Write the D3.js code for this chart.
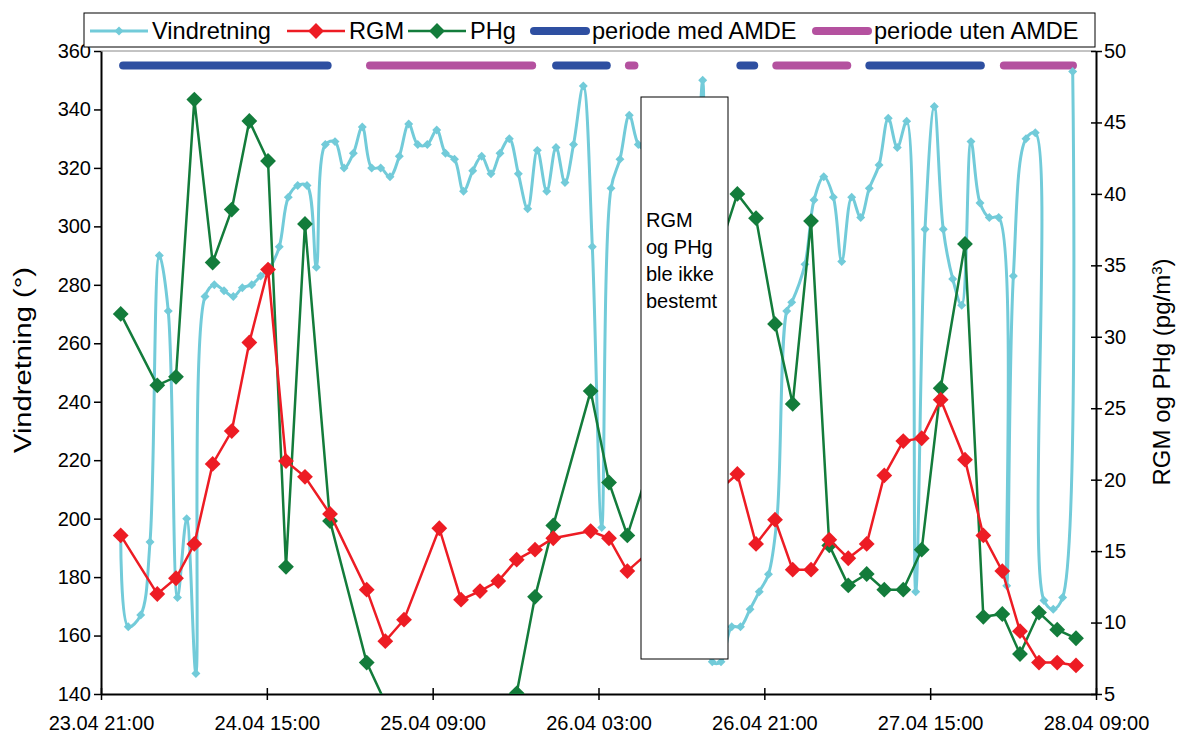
<!DOCTYPE html>
<html>
<head>
<meta charset="utf-8">
<script src="https://cdn.jsdelivr.net/npm/d3@7"></script>
<style>
  body { margin: 0; background: #fff; }
  svg text { font-family: Arial, "Liberation Sans", sans-serif; fill: #000; }
</style>
</head>
<body>
<div id="svg-container"></div>
<script>
// all times are hours after 23.04 21:00

// wind direction (left axis, degrees)
var windHours = [2.14, 2.96, 4.31, 5.32, 6.33, 7.30, 8.30, 9.30, 10.30, 11.29,
  12.30, 13.35, 14.36, 15.34, 16.36, 17.33, 18.34, 19.35, 20.33, 21.35,
  22.36, 23.37, 24.35, 25.40, 26.38, 27.39, 28.36, 29.38, 30.36, 31.37,
  32.38, 33.40, 34.38, 35.42, 36.44, 37.39, 38.37, 39.35, 40.35, 41.32,
  42.33, 43.31, 44.32, 45.30, 46.31, 47.36, 48.38, 49.39, 50.36, 51.29,
  52.35, 53.33, 54.35, 55.36, 56.33, 57.34, 58.32, 59.33, 60.33, 61.33,
  62.34, 63.33, 64.33, 65.31, 66.35, 67.30, 68.46, 69.41, 70.45, 71.45,
  72.45, 73.37, 74.43, 74.97, 76.41, 77.39, 78.45, 79.49, 80.40, 81.48,
  82.46, 83.39, 84.45, 85.45, 86.43, 87.45, 88.43, 89.44, 90.45, 91.42,
  92.45, 93.42, 94.43, 95.41, 96.42, 97.44, 98.31, 99.03, 100.40, 101.41,
  102.35, 103.36, 104.38, 105.47];
var windDeg = [194, 163, 167, 192, 290, 271, 173, 200, 147, 276,
  280, 278, 276, 279, 280, 283, 286, 293, 310, 314,
  314, 286, 328, 329, 320, 325, 334, 320, 320, 317,
  324, 335, 328, 328, 333, 325, 323, 312, 319, 324,
  318, 325, 330, 318, 306, 326, 312, 327, 315, 328,
  348, 293, 197, 313, 323, 338, 328, 325, 320, 318,
  322, 318, 300, 350, 151, 151, 163, 163, 169, 175,
  181, 200, 271, 274, 287, 309, 317, 310, 288, 310,
  303, 313, 321, 337, 327, 336, 175, 299, 341, 299,
  282, 273, 329, 308, 303, 303, 177, 283, 330, 332,
  172, 169, 173, 353];

// RGM and PHg samples (right axis, pg/m3)
var sampleHours = [2.14, 6.11, 8.14, 10.13, 12.12, 14.19, 16.10, 18.13, 20.08, 22.14,
  24.86, 28.84, 30.86, 32.89, 36.72, 39.08, 41.14, 43.12, 45.12, 47.11,
  49.09, 53.15, 55.14, 57.13, 69.07, 71.10, 73.16, 75.08, 77.07, 79.05,
  81.11, 83.11, 85.02, 87.08, 89.08, 91.14, 93.78, 95.77, 97.83, 99.75,
  101.81, 103.79, 105.83];
var rgm = [16.1, 12.0, 13.1, 15.5, 21.1, 23.4, 29.6, 34.7, 21.3, 20.2,
  17.6, 12.3, 8.7, 10.2, 16.6, 11.6, 12.2, 12.9, 14.4, 15.1,
  15.9, 16.4, 15.9, 13.6, 20.4, 15.5, 17.2, 13.7, 13.7, 15.8,
  14.5, 15.5, 20.3, 22.7, 22.9, 25.6, 21.4, 16.1, 13.6, 9.4,
  7.2, 7.2, 7.0];
var phg = [31.6, 26.6, 27.2, 46.6, 35.2, 38.9, 45.1, 42.3, 13.9, 37.9,
  17.1, 7.2, 4.4, 3.5, 4.3, 3.6, 3.2, 3.6, 5.05, 11.8,
  16.8, 26.2, 19.8, 16.1, 40.0, 38.3, 30.9, 25.3, 38.1, 15.4,
  12.6, 13.4, 12.3, 12.3, 15.1, 26.4, 36.5, 10.4, 10.6, 7.8,
  10.7, 9.5, 8.9];

// periods (start, end in hours), drawn at a fixed level on the left axis
var periodMed  = [[2.4, 24.6], [49.4, 54.9], [69.4, 70.9], [83.4, 95.5]];
var periodUten = [[29.2, 46.8], [57.3, 57.9], [73.3, 81.0], [98.0, 105.5]];
var periodLevel = 355;

// axis ticks
var xTickHours  = [0, 18, 36, 54, 72, 90, 108];
var xTickLabels = ["23.04 21:00", "24.04 15:00", "25.04 09:00", "26.04 03:00",
                   "26.04 21:00", "27.04 15:00", "28.04 09:00"];
var leftTicks  = [140, 160, 180, 200, 220, 240, 260, 280, 300, 320, 340, 360];
var rightTicks = [5, 10, 15, 20, 25, 30, 35, 40, 45, 50];

// colours
var cWind = "#72cbd9";
var cRgm  = "#ed1c24";
var cPhg  = "#137c3b";
var cMed  = "#2e4fa1";
var cUten = "#b4519f";

var svgWidth = 1179, svgHeight = 734;
var plotLeft = 101, plotRight = 1096, plotTop = 51, plotBottom = 694;

var xScale = d3.scaleLinear().domain([0, 108]).range([plotLeft, plotRight]);
var yLeft  = d3.scaleLinear().domain([140, 360]).range([plotBottom, plotTop]);
var yRight = d3.scaleLinear().domain([5, 50]).range([plotBottom, plotTop]);

var svg = d3.select("#svg-container")
  .append("svg")
  .attr("width", svgWidth)
  .attr("height", svgHeight);

svg.append("rect").attr("width", svgWidth).attr("height", svgHeight).attr("fill", "#fff");

svg.append("clipPath").attr("id", "plotClip")
  .append("rect")
  .attr("x", plotLeft).attr("y", plotTop)
  .attr("width", plotRight - plotLeft).attr("height", plotBottom - plotTop);

// plot frame top
svg.append("line")
  .attr("x1", plotLeft).attr("x2", plotRight).attr("y1", plotTop).attr("y2", plotTop)
  .attr("stroke", "#888").attr("stroke-width", 1);

// axes
var leftAxis = svg.append("g")
  .attr("transform", "translate(" + plotLeft + ",0)")
  .call(d3.axisLeft(yLeft).tickValues(leftTicks).tickSize(7).tickSizeOuter(0).tickPadding(3));

var rightAxis = svg.append("g")
  .attr("transform", "translate(" + plotRight + ",0)")
  .call(d3.axisRight(yRight).tickValues(rightTicks).tickSize(6).tickSizeOuter(0).tickPadding(2));
rightAxis.selectAll(".tick line").attr("x1", -5);

var bottomAxis = svg.append("g")
  .attr("transform", "translate(0," + plotBottom + ")")
  .call(d3.axisBottom(xScale).tickValues(xTickHours)
    .tickFormat(function(d, i) { return xTickLabels[i]; })
    .tickSize(6).tickSizeOuter(0).tickPadding(16));
bottomAxis.selectAll(".tick line").attr("y1", -6);

[leftAxis, rightAxis, bottomAxis].forEach(function(g) {
  g.select(".domain").attr("stroke", "#000").attr("stroke-width", 2);
  g.selectAll(".tick line").attr("stroke", "#000").attr("stroke-width", 1.5);
  g.selectAll(".tick text").attr("font-size", 20).attr("fill", "#000")
    .style("font-family", "Arial, 'Liberation Sans', sans-serif");
});

// axis titles (stretched along the axis like the original)
svg.append("text")
  .attr("transform", "translate(31,360) rotate(-90)")
  .attr("text-anchor", "middle")
  .attr("font-size", 23)
  .attr("textLength", 186)
  .attr("lengthAdjust", "spacingAndGlyphs")
  .text("Vindretning (°)");

var rTitle = svg.append("text")
  .attr("transform", "translate(1170,372) rotate(-90)")
  .attr("text-anchor", "middle")
  .attr("font-size", 24);
rTitle.append("tspan").text("RGM og PHg (pg/m");
rTitle.append("tspan").attr("font-size", 15).attr("baseline-shift", "super").text("3");
rTitle.append("tspan").text(")");

// series
var plot = svg.append("g").attr("clip-path", "url(#plotClip)");

var windData = windHours.map(function(h, i) { return [h, windDeg[i]]; });
var rgmData  = sampleHours.map(function(h, i) { return [h, rgm[i]]; });
var phgData  = sampleHours.map(function(h, i) { return [h, phg[i]]; });

// periods as thick rounded lines
function drawPeriods(list, colour) {
  plot.selectAll(null)
    .data(list)
    .enter()
    .append("line")
    .attr("x1", function(d) { return xScale(d[0]); })
    .attr("x2", function(d) { return xScale(d[1]); })
    .attr("y1", yLeft(periodLevel))
    .attr("y2", yLeft(periodLevel))
    .attr("stroke", colour)
    .attr("stroke-width", 8)
    .attr("stroke-linecap", "round");
}
drawPeriods(periodMed, cMed);
drawPeriods(periodUten, cUten);

var windLine = d3.line()
  .x(function(d) { return xScale(d[0]); })
  .y(function(d) { return yLeft(d[1]); })
  .curve(d3.curveCatmullRom.alpha(0.5));

var rightLine = d3.line()
  .x(function(d) { return xScale(d[0]); })
  .y(function(d) { return yRight(d[1]); });

var diamond = function(size) { return d3.symbol().type(d3.symbolSquare).size(size); };

function drawMarkers(data, yScale, colour, size, domain) {
  plot.selectAll(null)
    .data(data.filter(function(d) { return d[1] >= domain[0] && d[1] <= domain[1]; }))
    .enter()
    .append("path")
    .attr("d", diamond(size))
    .attr("transform", function(d) {
      return "translate(" + xScale(d[0]) + "," + yScale(d[1]) + ") rotate(45)";
    })
    .attr("fill", colour);
}

plot.append("path")
  .datum(windData)
  .attr("d", windLine)
  .attr("fill", "none")
  .attr("stroke", cWind)
  .attr("stroke-width", 3);
drawMarkers(windData, yLeft, cWind, 40, [140, 360]);

plot.append("path")
  .datum(phgData)
  .attr("d", rightLine)
  .attr("fill", "none")
  .attr("stroke", cPhg)
  .attr("stroke-width", 2.5);
drawMarkers(phgData, yRight, cPhg, 125, [5, 50]);

plot.append("path")
  .datum(rgmData)
  .attr("d", rightLine)
  .attr("fill", "none")
  .attr("stroke", cRgm)
  .attr("stroke-width", 2.5);
drawMarkers(rgmData, yRight, cRgm, 125, [5, 50]);

// note box where RGM and PHg were not measured
var note = svg.append("g");
note.append("rect")
  .attr("x", 641).attr("y", 97)
  .attr("width", 87).attr("height", 562)
  .attr("fill", "#fff").attr("stroke", "#000").attr("stroke-width", 1);
["RGM", "og PHg", "ble ikke", "bestemt"].forEach(function(t, i) {
  note.append("text")
    .attr("x", 646).attr("y", 227 + i * 27)
    .attr("font-size", 20)
    .text(t);
});

// legend
var legend = svg.append("g");
legend.append("rect")
  .attr("x", 84).attr("y", 13)
  .attr("width", 1011).attr("height", 34)
  .attr("fill", "#fff").attr("stroke", "#000").attr("stroke-width", 1);

var legendItems = [
  { name: "Vindretning",       colour: cWind, x: 90,  kind: "wind" },
  { name: "RGM",               colour: cRgm,  x: 287, kind: "big" },
  { name: "PHg",               colour: cPhg,  x: 408, kind: "big" },
  { name: "periode med AMDE",  colour: cMed,  x: 530, kind: "bar" },
  { name: "periode uten AMDE", colour: cUten, x: 812, kind: "bar" }
];
var ly = 31;
legendItems.forEach(function(it) {
  if (it.kind === "bar") {
    legend.append("line")
      .attr("x1", it.x + 4).attr("x2", it.x + 56)
      .attr("y1", ly).attr("y2", ly)
      .attr("stroke", it.colour).attr("stroke-width", 8).attr("stroke-linecap", "round");
  } else {
    legend.append("line")
      .attr("x1", it.x).attr("x2", it.x + 58)
      .attr("y1", ly).attr("y2", ly)
      .attr("stroke", it.colour).attr("stroke-width", it.kind === "wind" ? 3 : 2.5);
    legend.append("path")
      .attr("d", diamond(it.kind === "wind" ? 40 : 125))
      .attr("transform", "translate(" + (it.x + 29) + "," + ly + ") rotate(45)")
      .attr("fill", it.colour);
  }
  legend.append("text")
    .attr("x", it.x + 62)
    .attr("y", ly + 8)
    .attr("font-size", 23.6)
    .text(it.name);
});
</script>
</body>
</html>
